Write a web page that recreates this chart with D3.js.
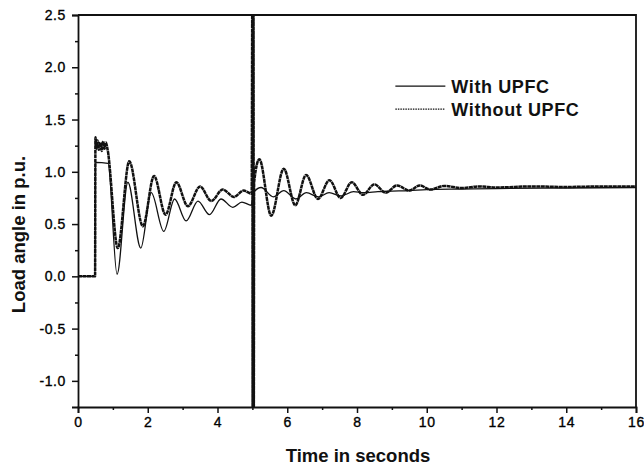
<!DOCTYPE html>
<html lang="en">
<head>
    <meta charset="UTF-8">
    <title>Load angle with and without UPFC</title>
    <script src="https://d3js.org/d3.v7.min.js"></script>
    <style>
        body { margin: 0; background-color: #fff; }
        text { font-family: "Liberation Sans", Arial, sans-serif; fill: #111; }
        .tick-label { font-size: 14px; letter-spacing: 0.6px; fill: #000; stroke: #000; stroke-width: 0.35px; }
        .axis-title { font-size: 18.5px; font-weight: bold; }
        .legend-text { font-size: 18px; font-weight: bold; letter-spacing: 0.6px; }
        .frame { stroke: #111; stroke-width: 1.8; fill: none; }
    </style>
</head>
<body>
    <div id="chart"></div>
    <script type="text/javascript">
        // With UPFC (solid line) - times and load angle values (p.u.)
        const withT = [0, 0.49, 0.5, 0.86, 1.12, 1.43, 1.8, 2.1, 2.46, 2.77, 3.1, 3.44, 3.77, 4.1, 4.44, 4.7, 4.97,
                       5.03, 5.25, 5.6, 5.9, 6.25, 6.55, 6.9, 7.2, 7.55, 7.9, 8.2, 8.6, 9.0, 9.5, 10, 11, 12, 14, 16];
        const withV = [0, 0, 1.09, 1.08, 0.02, 0.90, 0.27, 0.80, 0.43, 0.74, 0.53, 0.72, 0.59, 0.74, 0.66, 0.71, 0.68,
                       0.80, 0.85, 0.76, 0.82, 0.74, 0.80, 0.76, 0.80, 0.77, 0.81, 0.80, 0.81, 0.815, 0.82, 0.83, 0.835, 0.84, 0.845, 0.85];

        // Without UPFC (dotted line)
        const withoutT = [0, 0.49, 0.5, 0.53, 0.56, 0.6, 0.64, 0.68, 0.72, 0.76, 0.8, 0.85,
                          1.14, 1.47, 1.86, 2.18, 2.51, 2.82, 3.15, 3.5, 3.82, 4.15, 4.47, 4.75, 4.98,
                          5.0, 5.008, 5.016, 5.024, 5.032, 5.04, 5.05,
                          5.2, 5.54, 5.9, 6.23, 6.54, 6.88, 7.21, 7.53, 7.85, 8.17, 8.5, 8.82, 9.15, 9.5, 9.8, 10.1,
                          10.5, 11, 11.5, 12, 13, 14, 15, 16];
        const withoutV = [0, 0, 1.33, 1.22, 1.30, 1.21, 1.28, 1.20, 1.29, 1.22, 1.28, 1.21,
                          0.27, 1.10, 0.48, 0.96, 0.59, 0.90, 0.67, 0.86, 0.72, 0.83, 0.76, 0.82, 0.79,
                          2.8, -1.5, 2.8, -1.5, 2.8, -1.5, 0.9,
                          1.12, 0.58, 1.03, 0.68, 0.97, 0.74, 0.92, 0.75, 0.90, 0.78, 0.88, 0.80, 0.87, 0.82, 0.87, 0.83,
                          0.865, 0.845, 0.86, 0.85, 0.86, 0.855, 0.86, 0.86];

        const xMajor = [0, 2, 4, 6, 8, 10, 12, 14, 16];
        const xMinor = [1, 3, 5, 7, 9, 11, 13, 15];
        const yMajor = [-1.0, -0.5, 0.0, 0.5, 1.0, 1.5, 2.0, 2.5];
        const yMinor = [-0.75, -0.25, 0.25, 0.75, 1.25, 1.75, 2.25];
        const legendLabels = ["With UPFC", "Without UPFC"];

        const W = 644, H = 468;
        const margin = {top: 15, right: 8, bottom: 61, left: 78},
              width = W - margin.left - margin.right,
              height = H - margin.top - margin.bottom;

        const x = d3.scaleLinear().domain([0, 16]).range([0, width]);
        const y = d3.scaleLinear().domain([-1.25, 2.5]).range([height, 0]);

        const svg = d3.select("#chart").append("svg")
            .attr("width", W)
            .attr("height", H)
            .append("g")
            .attr("transform", "translate(" + margin.left + "," + margin.top + ")");

        svg.append("defs").append("clipPath")
            .attr("id", "plot-clip")
            .append("rect")
            .attr("width", width)
            .attr("height", height);

        const line = d3.line()
            .x(d => x(d[0]))
            .y(d => y(d[1]))
            .curve(d3.curveMonotoneX);

        const withData = withT.map((t, i) => [t, withV[i]]);
        const withoutData = withoutT.map((t, i) => [t, withoutV[i]]);

        const plot = svg.append("g").attr("clip-path", "url(#plot-clip)");

        plot.append("path")
            .datum(withoutData)
            .attr("d", line)
            .attr("fill", "none")
            .attr("stroke", "#111")
            .attr("stroke-width", 2.5)
            .attr("stroke-dasharray", "4,0.5");

        plot.append("path")
            .datum(withData)
            .attr("d", line)
            .attr("fill", "none")
            .attr("stroke", "#111")
            .attr("stroke-width", 1.3);

        // X axis
        const xAxis = svg.append("g")
            .attr("transform", "translate(0," + height + ")")
            .call(d3.axisBottom(x).tickValues(xMajor).tickSize(6).tickPadding(4).tickFormat(d3.format("d")));
        svg.append("g")
            .attr("transform", "translate(0," + height + ")")
            .call(d3.axisBottom(x).tickValues(xMinor).tickSize(3).tickFormat(""))
            .select(".domain").remove();

        // Y axis
        const yAxis = svg.append("g")
            .call(d3.axisLeft(y).tickValues(yMajor).tickSize(6).tickPadding(6).tickFormat(d => d.toFixed(1)));
        svg.append("g")
            .call(d3.axisLeft(y).tickValues(yMinor).tickSize(3).tickFormat(""))
            .select(".domain").remove();

        svg.selectAll(".domain").attr("stroke", "#111").attr("stroke-width", 1.8);
        svg.selectAll(".tick line").attr("stroke", "#111").attr("stroke-width", 1.5);
        svg.selectAll(".tick text").attr("class", "tick-label").attr("fill", "#000");
        xAxis.attr("font-family", null).attr("font-size", null);
        yAxis.attr("font-family", null).attr("font-size", null);

        // top and right frame
        svg.append("path")
            .attr("class", "frame")
            .attr("d", d3.line()([[x(0), y(2.5)], [x(16), y(2.5)], [x(16), y(-1.25)]]));

        // titles
        svg.append("text")
            .attr("class", "axis-title")
            .attr("x", width / 2 + 1)
            .attr("y", height + 55)
            .attr("text-anchor", "middle")
            .text("Time in seconds");

        svg.append("text")
            .attr("class", "axis-title")
            .attr("transform", "translate(" + (-53) + "," + y(0.4) + ") rotate(-90)")
            .attr("text-anchor", "middle")
            .text("Load angle in p.u.");

        // legend
        const legend = svg.append("g").attr("transform", "translate(" + x(9.1) + "," + y(1.82) + ")");
        legendLabels.forEach((lab, i) => {
            const g = legend.append("g").attr("transform", "translate(0," + (i * 23) + ")");
            g.append("line")
                .attr("x1", 0).attr("x2", 50)
                .attr("stroke", "#111")
                .attr("stroke-width", i === 0 ? 1.3 : 1.1)
                .attr("stroke-dasharray", i === 0 ? null : "1.5,1");
            g.append("text")
                .attr("class", "legend-text")
                .attr("x", 56)
                .attr("y", 7)
                .text(lab);
        });
    </script>
</body>
</html>
